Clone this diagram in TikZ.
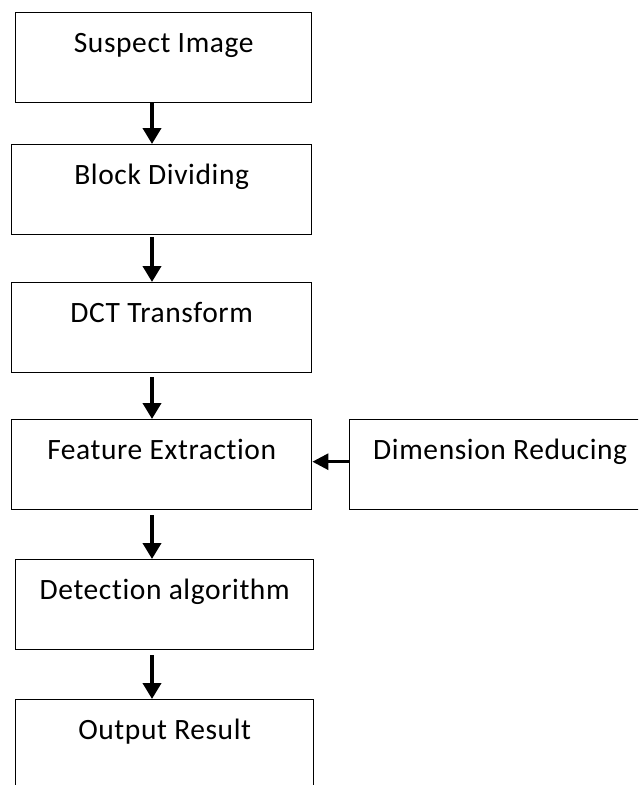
\documentclass[tikz,border=0pt]{standalone}
\usepackage{fontspec}
\setmainfont{Carlito}[LetterSpace=2,Ligatures=NoCommon]
\usetikzlibrary{arrows.meta}
\begin{document}
\begin{tikzpicture}[x=1pt,y=-1pt,
  box/.style={draw, line width=1.4pt, anchor=north west, inner sep=0pt,
    text height=40pt, text depth=50pt, font=\fontsize{29.5}{33}\selectfont},
  arr/.style={line width=3.8pt, -{Triangle[length=16pt,width=18pt]}},
  harr/.style={line width=3pt, -{Triangle[length=16pt,width=16pt]}}
]
\useasboundingbox (0,0) rectangle (638,785);
\clip (0,0) rectangle (638,785);
\node[box, minimum width=296pt] (s1) at (15,12) {Suspect Image};
\node[box, minimum width=300pt] (s2) at (11,144) {Block Dividing};
\node[box, minimum width=300pt] (s3) at (11,282) {DCT Transform};
\node[box, minimum width=300pt] (s4) at (11,419) {Feature Extraction};
\node[box, minimum width=301pt] (s6) at (349,419) {Dimension Reducing};
\node[box, minimum width=298pt] (s5) at (15,559) {Detection algorithm};
\node[box, minimum width=298pt] (s7) at (15,699) {Output Result};
\coordinate (ax) at (152,0);
\draw[arr] (s1.south -| ax) -- (s2.north -| ax);
\draw[arr] ([yshift=-2pt]s2.south -| ax) -- (s3.north -| ax);
\draw[arr] ([yshift=-4pt]s3.south -| ax) -- (s4.north -| ax);
\draw[arr] ([yshift=-5pt]s4.south -| ax) -- (s5.north -| ax);
\draw[arr] ([yshift=-5pt]s5.south -| ax) -- (s7.north -| ax);
\draw[harr] ([yshift=3pt]s6.west) -- ([yshift=3pt]s4.east);
\end{tikzpicture}
\end{document}
